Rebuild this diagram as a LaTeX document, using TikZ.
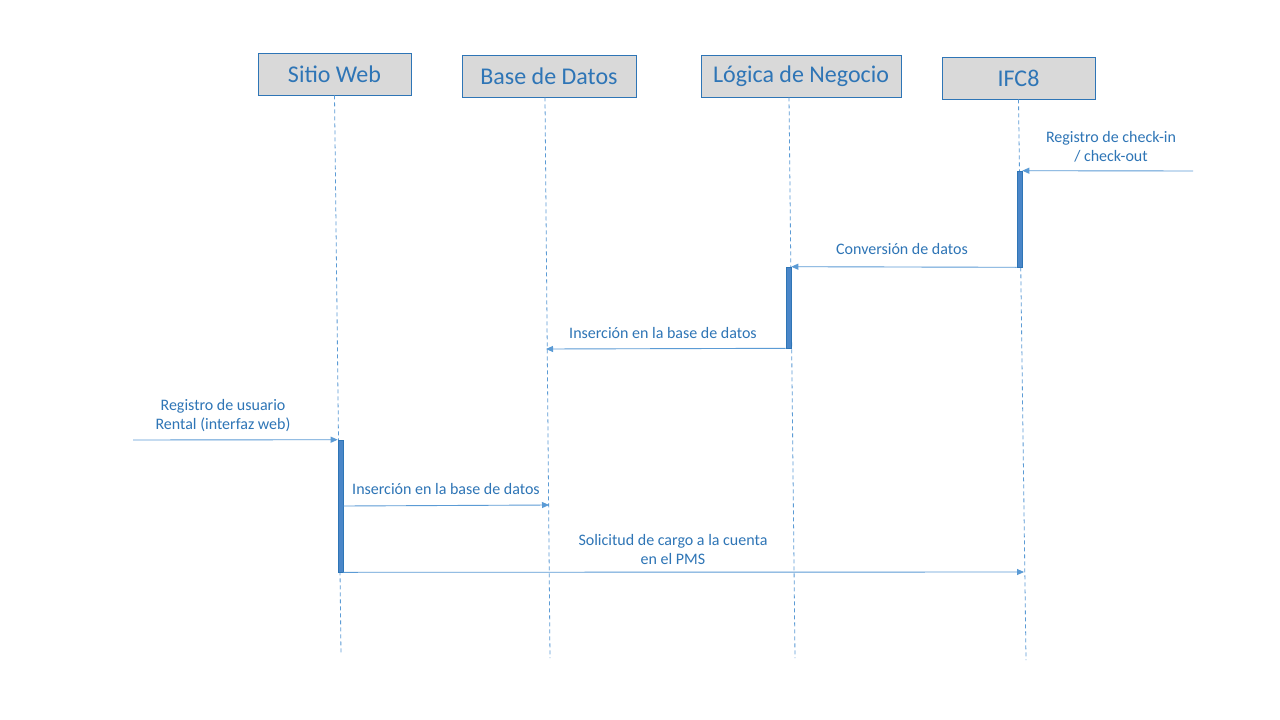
\documentclass[tikz,border=0pt]{standalone}
\usepackage{fontspec}
\setmainfont{Carlito}
\usetikzlibrary{arrows.meta}
\definecolor{txtblue}{HTML}{2E75B6}
\definecolor{lnblue}{HTML}{5B9BD5}
\definecolor{boxgray}{HTML}{D9D9D9}
\definecolor{barblue}{HTML}{4A86C8}
\begin{document}
\begin{tikzpicture}[x=1pt,y=-1pt,
  header/.style={draw=txtblue,fill=boxgray,line width=0.9pt,minimum height=42pt,inner sep=0pt,text=txtblue,font=\fontsize{24}{28}\selectfont},
  lifeline/.style={draw=lnblue,dashed,dash pattern=on 4pt off 3pt,line width=0.8pt},
  actbar/.style={draw=txtblue,fill=barblue,line width=0.6pt,minimum width=5pt,inner sep=0pt},
  msg/.style={draw=lnblue,line width=0.9pt,-{Triangle[length=7pt,width=6pt]}},
  lbl/.style={text=txtblue,font=\fontsize{16}{19}\selectfont,align=center,inner sep=0pt}]
\path[use as bounding box] (0,0) rectangle (1280,720);
\fill[white] (0,0) rectangle (1280,720);
% headers
\node[header,minimum width=153pt] (sw) at (334.5,74) {Sitio Web};
\node[header,minimum width=174pt] (bd) at (549,76) {Base de Datos};
\node[header,minimum width=200pt] (ln) at (801,76) {Lógica de Negocio};
\node[header,minimum width=153pt] (ifc) at (1018.5,78) {IFC8};
% lifeline ends
\coordinate (swe) at (341,655);
\coordinate (bde) at (550,658);
\coordinate (lne) at (795,658);
\coordinate (ifce) at (1026,660);
\draw[lifeline] (sw.south) -- (swe);
\draw[lifeline] (bd.south -| 545,0) -- (bde);
\draw[lifeline] (ln.south -| 789,0) -- (lne);
\draw[lifeline] (ifc.south) -- (ifce);
% activation bars
\node[actbar,minimum height=96pt] (a1) at (1019.5,219) {};
\node[actbar,minimum height=81pt] (a2) at (788.5,307.5) {};
\node[actbar,minimum height=132pt] (a3) at (340.5,506) {};
% free ends
\coordinate (in1) at (1193,171);
\coordinate (in2) at (133,440);
\coordinate (bdp1) at (546,349);
\coordinate (bdp2) at (549,505);
\coordinate (ifcp) at (1024,572);
% messages
\draw[msg] (in1) -- (a1.north east);
\node[lbl] (l1) at (1111,146.5) {Registro de check-in\\/ check-out};
\draw[msg] (a1.south west) -- (a2.north east);
\node[lbl] (l2) at (902,249) {Conversión de datos};
\draw[msg] (a2.south west) -- (bdp1);
\node[lbl] (l3) at (663,333) {Inserción en la base de datos};
\draw[msg] (in2) -- (a3.north west);
\node[lbl] (l4) at (223,415.5) {Registro de usuario\\Rental (interfaz web)};
\draw[msg] (a3.east |- 0,506) -- (bdp2);
\node[lbl] (l5) at (446,489) {Inserción en la base de datos};
\draw[msg] (a3.south east) -- (ifcp);
\node[lbl] (l6) at (673,549.5) {Solicitud de cargo a la cuenta\\en el PMS};
\end{tikzpicture}
\end{document}
